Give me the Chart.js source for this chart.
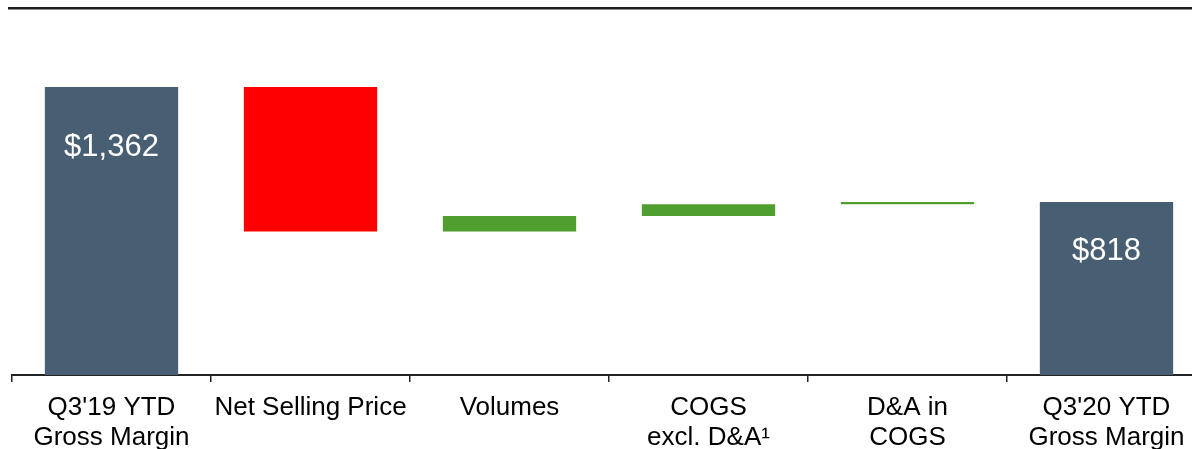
<!DOCTYPE html>
<html>
<head>
<meta charset="utf-8">
<script src="https://cdn.jsdelivr.net/npm/chart.js@4"></script>
<style>
  html, body { margin: 0; padding: 0; background: #fff; overflow: hidden; width: 1192px; height: 449px; }
  #rule { position: absolute; left: 8px; right: 0; top: 7px; height: 2px; background: #1e1e1e; border-bottom: 1px solid #8a8a8a; }
  #wrap { position: absolute; left: 0; top: 0; width: 1212px; height: 449px; }
</style>
</head>
<body>
<div id="rule"></div>
<div id="wrap"><canvas id="bridge" width="1212" height="449"></canvas></div>
<script>
// gross margin bridge Q3'19 -> Q3'20 ($M)
const categorias = [["Q3'19 YTD", "Gross Margin"], "Net Selling Price", "Volumes", ["COGS", "excl. D&A\u00B9"], ["D&A in", "COGS"], ["Q3'20 YTD", "Gross Margin"]];
const inicio = 1362;
const variacoes = [-684, 74, 55, 11];
const fim = 818;
const rotulosValor = ['$1,362', '', '', '', '', '$818'];

// monta as barras flutuantes a partir das variações
const barras = [[0, inicio]];
let nivel = inicio;
variacoes.forEach(v => {
    barras.push([nivel, nivel + v]);
    nivel += v;
});
barras.push([0, fim]);

const cores = barras.map((b, i) => {
    if (i === 0 || i === barras.length - 1) return '#485e72'; // totais
    return b[1] < b[0] ? '#ff0000' : '#509e2f';
});

const fonte = '"Liberation Sans", Arial, sans-serif';

const rotulosPlugin = {
    id: 'rotulosValor',
    afterDatasetsDraw(chart) {
        const ctx = chart.ctx;
        const meta = chart.getDatasetMeta(0);
        const deslocamentos = [61, 0, 0, 0, 0, 49];
        ctx.save();
        ctx.fillStyle = '#ffffff';
        ctx.font = '31px ' + fonte;
        ctx.textAlign = 'center';
        ctx.textBaseline = 'middle';
        meta.data.forEach((bar, i) => {
            if (!rotulosValor[i]) return;
            ctx.fillText(rotulosValor[i], bar.x, bar.y + deslocamentos[i]);
        });
        ctx.restore();
    }
};

new Chart(document.getElementById('bridge'), {
    type: 'bar',
    data: {
        labels: categorias,
        datasets: [{
            data: barras,
            backgroundColor: cores,
            borderSkipped: false,
            categoryPercentage: 1,
            barPercentage: 0.67
        }]
    },
    options: {
        responsive: false,
        animation: false,
        layout: { padding: { left: 12, right: 6, top: 0, bottom: 0 } },
        plugins: { legend: { display: false }, tooltip: { enabled: false } },
        scales: {
            y: { display: false, min: 0, max: 1773 },
            x: {
                afterFit(scale) { scale.height = 74; },
                border: { display: true, color: '#222', width: 2 },
                grid: { offset: true, drawOnChartArea: false, drawTicks: true, tickLength: 7, color: '#222', lineWidth: 1.5 },
                ticks: {
                    color: '#000',
                    font: { family: fonte, size: 26, lineHeight: 1.18 },
                    padding: 10,
                    maxRotation: 0,
                    autoSkip: false
                }
            }
        }
    },
    plugins: [rotulosPlugin]
});
</script>
</body>
</html>
